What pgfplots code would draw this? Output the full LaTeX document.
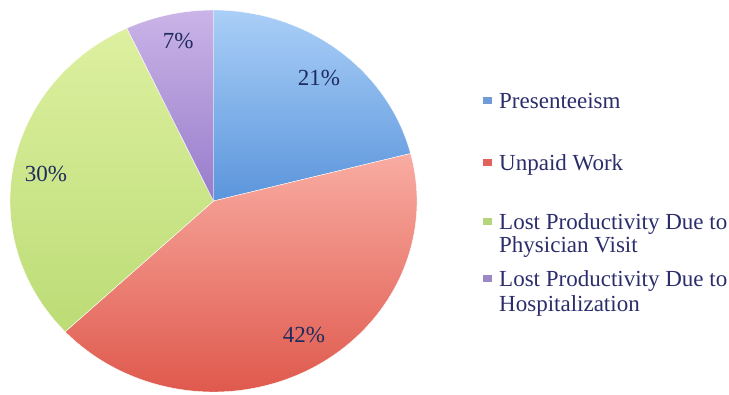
\documentclass[border=0pt]{standalone}
\usepackage{pgfplots}
\usepackage{pgfplotstable}
\usepackage{fontspec}
\setmainfont{Liberation Serif}
\pgfplotsset{compat=1.18}
\definecolor{bluetop}{HTML}{AACFF7}
\definecolor{bluebot}{HTML}{5B95DC}
\definecolor{redtop}{HTML}{F9ACA2}
\definecolor{redbot}{HTML}{DE5549}
\definecolor{greentop}{HTML}{DDF0A0}
\definecolor{greenbot}{HTML}{BCDC76}
\definecolor{purptop}{HTML}{CAB4E7}
\definecolor{purpbot}{HTML}{977CCB}
\definecolor{legblue}{HTML}{6F9BD8}
\definecolor{legred}{HTML}{E0625A}
\definecolor{leggreen}{HTML}{B5D57A}
\definecolor{legpurp}{HTML}{9D88C6}
\definecolor{labtext}{HTML}{1F2B5E}
\definecolor{legtext}{HTML}{2B2D6B}
\pgfplotstableread{
name value
Presenteeism 21
Unpaid 42
Physician 30
Hospital 7
}\piedata
\begin{document}
\begin{tikzpicture}
\begin{axis}[
  scale only axis, width=729bp, height=395bp,
  xmin=-1.0491, xmax=2.5332, ymin=-1.0157, ymax=1.0524,
  hide axis, clip=false,
]
\pgfplotsextra{
  \gdef\cum{0}
  \foreach \i/\ct/\cb in {0/bluetop/bluebot,1/redtop/redbot,2/greentop/greenbot,3/purptop/purpbot}{
    \pgfplotstablegetelem{\i}{value}\of\piedata
    \let\v\pgfplotsretval
    \pgfmathsetmacro\s{90-3.6*\cum}
    \pgfmathsetmacro\e{90-3.6*(\cum+\v)}
    \shade[top color=\ct, bottom color=\cb, draw=white, line width=0.4pt]
      (axis cs:0,0) -- (axis cs:{cos(\s)},{sin(\s)})
      arc[start angle=\s, end angle=\e, x radius=203.5bp, y radius=191bp] -- cycle;
    \pgfmathsetmacro\c{\cum+\v}
    \xdef\cum{\c}
  }
  \begin{scope}[every node/.style={font=\fontsize{23bp}{24bp}\selectfont, anchor=base, inner sep=0pt}]
    \node[text=labtext] at (axis cs:0.518,0.607) {21\%};
    \node[text=labtext] at (axis cs:0.445,-0.743) {42\%};
    \node[text=labtext] at (axis cs:-0.823,0.0995) {30\%};
    \node[text=labtext] at (axis cs:-0.174,0.801) {7\%};
  \end{scope}
  \begin{scope}[every node/.style={font=\fontsize{23bp}{24bp}\selectfont, anchor=base west, inner sep=0pt, text=legtext}]
    \fill[legblue] (axis cs:1.346,0.524) ++(-4.5bp,-3.5bp) rectangle ++(9bp,7bp);
    \node at (axis cs:1.403,0.482) {Presenteeism};
    \fill[legred] (axis cs:1.346,0.204) ++(-4.5bp,-3.5bp) rectangle ++(9bp,7bp);
    \node at (axis cs:1.403,0.162) {Unpaid Work};
    \fill[leggreen] (axis cs:1.346,-0.105) ++(-4.5bp,-3.5bp) rectangle ++(9bp,7bp);
    \node at (axis cs:1.403,-0.147) {Lost Productivity Due to};
    \node at (axis cs:1.403,-0.272) {Physician Visit};
    \fill[legpurp] (axis cs:1.346,-0.408) ++(-4.5bp,-3.5bp) rectangle ++(9bp,7bp);
    \node at (axis cs:1.403,-0.450) {Lost Productivity Due to};
    \node at (axis cs:1.403,-0.581) {Hospitalization};
  \end{scope}
}
\end{axis}
\pgfresetboundingbox
\path[use as bounding box] (current axis.south west) rectangle (current axis.north east);
\end{tikzpicture}
\end{document}
